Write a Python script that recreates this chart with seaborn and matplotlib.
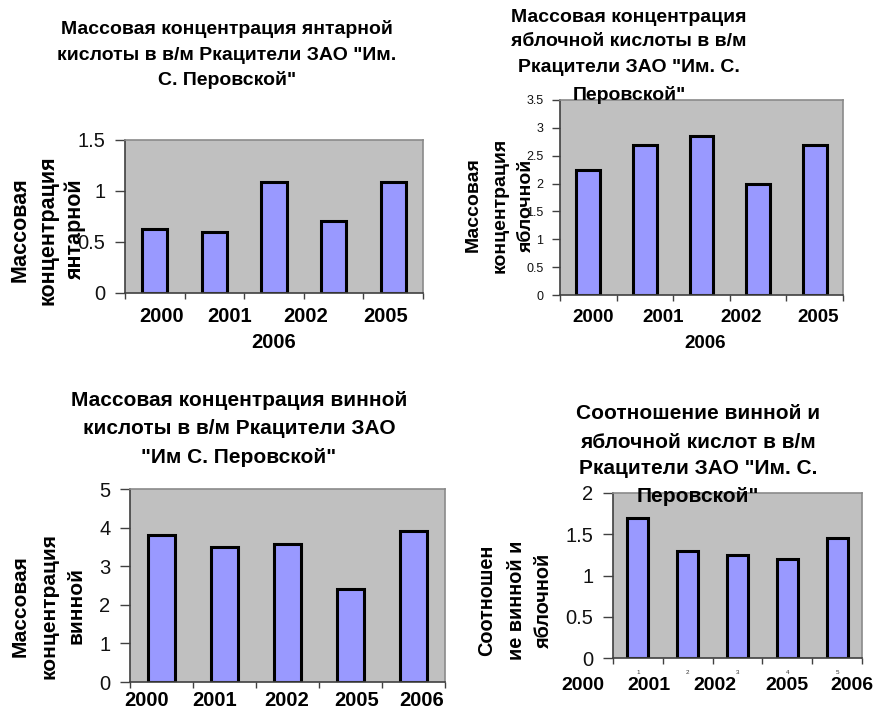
import matplotlib
matplotlib.use('Agg')
import matplotlib.pyplot as plt
import seaborn as sns
import pandas as pd

# ---------------- data ----------------
years = ['2000', '2001', '2002', '2005', '2006']
succinic = [0.63, 0.60, 1.09, 0.71, 1.09]      # янтарная
malic = [2.24, 2.70, 2.86, 2.00, 2.70]         # яблочная
tartaric = [3.80, 3.50, 3.57, 2.40, 3.90]      # винная
ratio = [1.70, 1.30, 1.25, 1.20, 1.45]         # винная / яблочная

ticks1 = [0, 0.5, 1, 1.5]
ticks2 = [0, 0.5, 1, 1.5, 2, 2.5, 3, 3.5]
ticks3 = [0, 1, 2, 3, 4, 5]
ticks4 = [0, 0.5, 1, 1.5, 2]

title1 = ['Массовая концентрация янтарной', 'кислоты в в/м Ркацители ЗАО "Им.', 'С. Перовской"']
title2 = ['Массовая концентрация', 'яблочной кислоты в в/м', 'Ркацители ЗАО "Им. С.', 'Перовской"']
title3 = ['Массовая концентрация винной', 'кислоты в в/м Ркацители ЗАО', '"Им С. Перовской"']
title4 = ['Соотношение винной и', 'яблочной кислот в в/м', 'Ркацители ЗАО "Им. С.', 'Перовской"']
ylab1 = ['Массовая', 'концентрация', 'янтарной']
ylab2 = ['Массовая', 'концентрация', 'яблочной']
ylab3 = ['Массовая', 'концентрация', 'винной']
ylab4 = ['Соотношен', 'ие винной и', 'яблочной']

# ---------------- style ----------------
sns.set_style('white')
plt.rcParams['font.family'] = ['Liberation Sans', 'DejaVu Sans']
plt.rcParams['text.color'] = 'black'

W, H = 875, 715
fig = plt.figure(figsize=(W / 100, H / 100), dpi=100)
fig.patch.set_facecolor('white')

BAR = '#9999FF'
BG = '#C0C0C0'


def ax_at(x0, y0, x1, y1):
    return fig.add_axes([x0 / W, 1 - y1 / H, (x1 - x0) / W, (y1 - y0) / H])


def txt(x, y, s, **kw):
    kw.setdefault('ha', 'center')
    kw.setdefault('va', 'center')
    kw.setdefault('color', 'black')
    fig.text(x / W, 1 - y / H, s, **kw)


def panel(box, vals, yticks, ysize, tlen=7, pad=7):
    ax = ax_at(*box)
    df = pd.DataFrame({'year': years, 'value': vals})
    sns.barplot(data=df, x='year', y='value', order=years, ax=ax, color=BAR,
                saturation=1, width=0.42, edgecolor='black', linewidth=2.2)
    ax.set_facecolor(BG)
    ax.set_xlim(-0.5, len(years) - 0.5)
    ax.set_ylim(yticks[0], yticks[-1])
    ax.set_yticks(yticks)
    ax.set_yticklabels([f'{v:g}' for v in yticks])
    ax.set_xticks([i - 0.5 for i in range(len(years) + 1)])
    ax.set_xticklabels([])
    ax.set_xlabel('')
    ax.set_ylabel('')
    ax.tick_params(axis='y', direction='out', length=tlen, width=1, color='#404040',
                   pad=pad, labelsize=ysize, labelcolor='#111111', left=True)
    ax.tick_params(axis='x', direction='out', length=4, width=1, color='#404040', bottom=True)
    for s in ['top', 'right']:
        ax.spines[s].set_color('#8a8a8a')
        ax.spines[s].set_linewidth(1.2)
    for s in ['left', 'bottom']:
        ax.spines[s].set_color('#404040')
        ax.spines[s].set_linewidth(1.2)
    return ax


# ---------------- panel 1 ----------------
ax1 = panel((125, 140, 423, 293), succinic, ticks1, 14.5)
for y, s in zip([29, 55, 80], title1):
    txt(227, y, s, fontsize=14, fontweight='bold')
for x, s in zip([20, 48, 75], ylab1):
    txt(x, 230, s, fontsize=15.5, fontweight='bold', rotation=90)
for x, s in zip([162, 230, 306, 386], years[:4]):
    txt(x, 317, s, fontsize=14.5, fontweight='bold')
txt(274, 343, years[4], fontsize=14.5, fontweight='bold')

# ---------------- panel 2 ----------------
ax2 = panel((560, 100, 843, 295), malic, ticks2, 9, tlen=6, pad=6)
for y, s in zip([17, 42, 68, 95], title2):
    txt(629, y, s, fontsize=14, fontweight='bold')
for x, s in zip([473, 500, 526], ylab2):
    txt(x, 205, s, fontsize=14, fontweight='bold', rotation=90)
for x, s in zip([593, 663, 741, 818], years[:4]):
    txt(x, 318, s, fontsize=13.5, fontweight='bold')
txt(705, 343, years[4], fontsize=13.5, fontweight='bold')

# ---------------- panel 3 ----------------
ax3 = panel((130, 489, 445, 682), tartaric, ticks3, 14.5)
for y, s in zip([400, 428, 457], title3):
    txt(239, y, s, fontsize=15, fontweight='bold')
for x, s in zip([20, 49, 76], ylab3):
    txt(x, 606, s, fontsize=15, fontweight='bold', rotation=90)
for i, (x, s) in enumerate(zip([147, 215, 287, 357, 422], years)):
    txt(x, 701, s, fontsize=14.5, fontweight='bold')

# ---------------- panel 4 ----------------
ax4 = panel((613, 493, 862, 658), ratio, ticks4, 14.5)
for y, s in zip([413, 442, 468, 497], title4):
    txt(698, y, s, fontsize=15, fontweight='bold')
for x, s in zip([487, 517, 543], ylab4):
    txt(x, 600, s, fontsize=14.3, fontweight='bold', rotation=90)
for i in range(len(years)):
    ax4.text(i, -0.09, str(i + 1), transform=ax4.get_xaxis_transform(),
             ha='center', va='center', fontsize=4.5, color='#333333')
for x, s in zip([583, 649, 715, 787, 852], years):
    txt(x, 685, s, fontsize=14, fontweight='bold')

fig.savefig('out.png', dpi=100, facecolor='white')
